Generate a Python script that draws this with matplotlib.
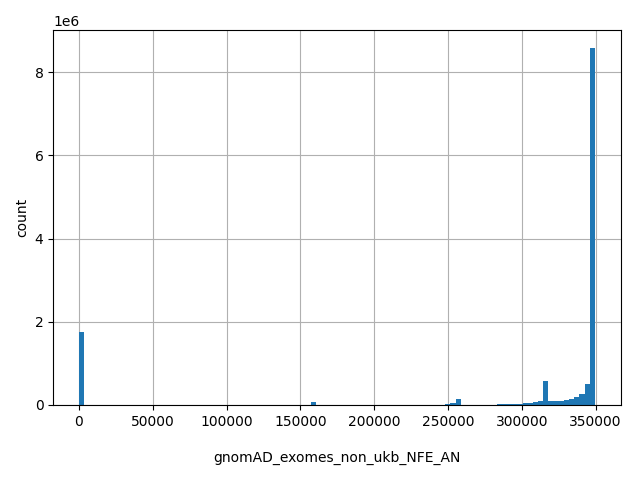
import matplotlib
matplotlib.use("Agg")
import matplotlib.pyplot as plt

# Representative allele-number values (one per populated histogram bin) and their counts
an_values = [1748, 159022, 249893, 253388, 256883,
             284843, 288338, 291833, 295328, 298823,
             302318, 305813, 309308, 312803, 316298,
             319793, 323288, 326783, 330278, 333773,
             337268, 340763, 344258, 347753]
counts = [1.75e6, 0.07e6, 0.02e6, 0.05e6, 0.14e6,
          0.024e6, 0.024e6, 0.024e6, 0.024e6, 0.024e6,
          0.05e6, 0.05e6, 0.07e6, 0.10e6, 0.58e6,
          0.10e6, 0.10e6, 0.10e6, 0.12e6, 0.15e6,
          0.19e6, 0.26e6, 0.50e6, 8.58e6]
data_min, data_max = 0, 349500

fig, ax = plt.subplots(figsize=(6.4, 4.8), dpi=100)
ax.hist(an_values, bins=100, range=(data_min, data_max), weights=counts,
        color="#1f77b4")
ax.grid(True)
ax.set_axisbelow(True)
ax.set_xlabel("gnomAD_exomes_non_ukb_NFE_AN", labelpad=16)
ax.set_ylabel("count")
fig.tight_layout()
fig.savefig("out.png")
